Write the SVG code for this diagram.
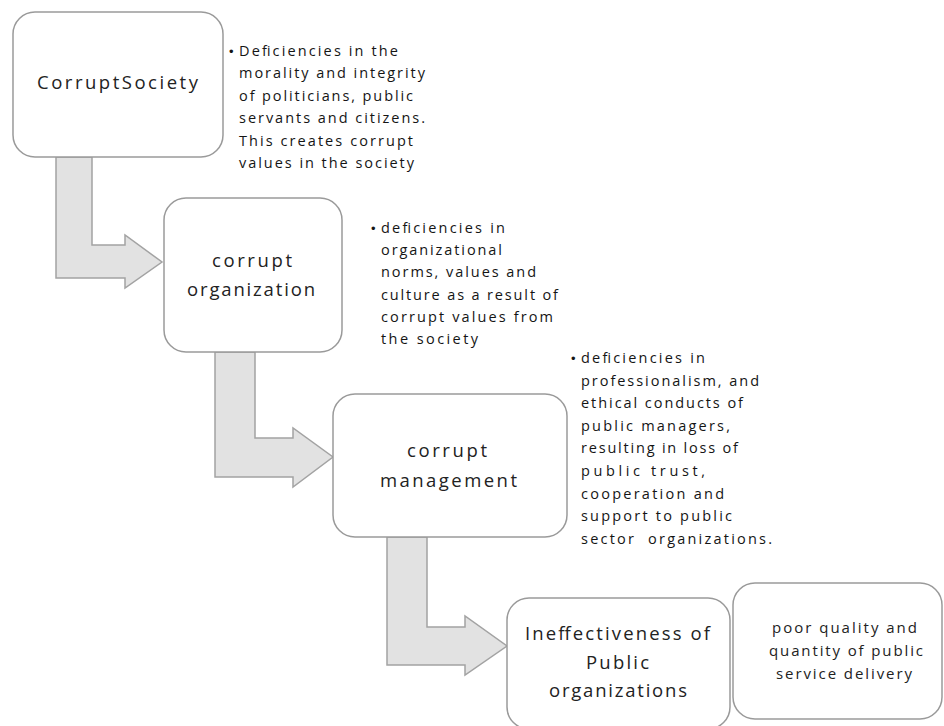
<svg xmlns="http://www.w3.org/2000/svg" width="944" height="726" viewBox="0 0 944 726">
<style>
.box{fill:#fff;stroke:#9a9a9a;stroke-width:1.5}
.arr{fill:#e2e2e2;stroke:#a3a3a3;stroke-width:1.5;stroke-linejoin:miter}
.lbl{font-family:"Open Sans","Liberation Sans",Arial,sans-serif;font-size:18.5px;fill:#222}
.lbl2{font-family:"Open Sans","Liberation Sans",Arial,sans-serif;font-size:15px;fill:#222}
.bt{font-family:"Open Sans","Liberation Sans",Arial,sans-serif;font-size:14.5px;fill:#151515}
.bul{font-family:"Liberation Sans",Arial,sans-serif;font-size:13px;fill:#151515}
</style>
<rect width="944" height="726" fill="#fff"/>
<g id="connectors">
<path class="arr" d="M56,157 L92,157 L92,245 L125,245 L125,235 L162,262 L125,288 L125,278 L56,278 Z"/>
<path class="arr" d="M215,352 L255,352 L255,438 L293,438 L293,428 L333,457 L293,487 L293,477 L215,477 Z"/>
<path class="arr" d="M387,537 L427,537 L427,627 L465,627 L465,616 L507,646 L465,675 L465,665 L387,665 Z"/>
</g>
<g id="n1">
<rect class="box" x="13" y="12" width="210" height="145" rx="22"/>
<text class="lbl" x="37" y="89" textLength="161" lengthAdjust="spacing">CorruptSociety</text>
</g>
<g id="t1">
<text class="bul" x="229" y="56">•</text>
<text class="bt" x="239" y="56" textLength="159" lengthAdjust="spacing">Deficiencies in the</text>
<text class="bt" x="239" y="78" textLength="186" lengthAdjust="spacing">morality and integrity</text>
<text class="bt" x="239" y="101" textLength="174" lengthAdjust="spacing">of politicians, public</text>
<text class="bt" x="239" y="123" textLength="186" lengthAdjust="spacing">servants and citizens.</text>
<text class="bt" x="239" y="146" textLength="174" lengthAdjust="spacing">This creates corrupt</text>
<text class="bt" x="239" y="168" textLength="175" lengthAdjust="spacing">values in the society</text>
</g>
<g id="n2">
<rect class="box" x="164" y="198" width="178" height="154" rx="22"/>
<text class="lbl" x="212" y="267" textLength="80" lengthAdjust="spacing">corrupt</text>
<text class="lbl" x="187" y="296" textLength="128" lengthAdjust="spacing">organization</text>
</g>
<g id="t2">
<text class="bul" x="371" y="233">•</text>
<text class="bt" x="381" y="233" textLength="124" lengthAdjust="spacing">deficiencies in</text>
<text class="bt" x="381" y="255" textLength="121" lengthAdjust="spacing">organizational</text>
<text class="bt" x="381" y="277" textLength="155" lengthAdjust="spacing">norms, values and</text>
<text class="bt" x="381" y="300" textLength="177" lengthAdjust="spacing">culture as a result of</text>
<text class="bt" x="381" y="322" textLength="172" lengthAdjust="spacing">corrupt values from</text>
<text class="bt" x="381" y="344" textLength="97" lengthAdjust="spacing">the society</text>
</g>
<g id="n3">
<rect class="box" x="333" y="394" width="234" height="143" rx="22"/>
<text class="lbl" x="407" y="457" textLength="80" lengthAdjust="spacing">corrupt</text>
<text class="lbl" x="380" y="487" textLength="137" lengthAdjust="spacing">management</text>
</g>
<g id="t3">
<text class="bul" x="571" y="363">•</text>
<text class="bt" x="581" y="363" textLength="124" lengthAdjust="spacing">deficiencies in</text>
<text class="bt" x="581" y="385.6" textLength="178" lengthAdjust="spacing">professionalism, and</text>
<text class="bt" x="581" y="408.2" textLength="162" lengthAdjust="spacing">ethical conducts of</text>
<text class="bt" x="581" y="430.8" textLength="149" lengthAdjust="spacing">public managers,</text>
<text class="bt" x="581" y="453.4" textLength="157" lengthAdjust="spacing">resulting in loss of</text>
<text class="bt" x="581" y="476" textLength="124" lengthAdjust="spacing">public trust,</text>
<text class="bt" x="581" y="498.6" textLength="143" lengthAdjust="spacing">cooperation and</text>
<text class="bt" x="581" y="521.2" textLength="151" lengthAdjust="spacing">support to public</text>
<text class="bt" x="581" y="543.8" textLength="191" lengthAdjust="spacing">sector&#160; organizations.</text>
</g>
<g id="n4">
<rect class="box" x="507" y="598" width="223" height="131" rx="22"/>
<text class="lbl" x="525" y="640" textLength="185" lengthAdjust="spacing">Ineffectiveness of</text>
<text class="lbl" x="586" y="669" textLength="63" lengthAdjust="spacing">Public</text>
<text class="lbl" x="549" y="697" textLength="138" lengthAdjust="spacing">organizations</text>
</g>
<g id="n5">
<rect class="box" x="733" y="583" width="209" height="136" rx="22"/>
<text class="lbl2" x="772" y="633" textLength="145" lengthAdjust="spacing">poor quality and</text>
<text class="lbl2" x="769" y="656" textLength="154" lengthAdjust="spacing">quantity of public</text>
<text class="lbl2" x="776" y="679" textLength="136" lengthAdjust="spacing">service delivery</text>
</g>
</svg>
